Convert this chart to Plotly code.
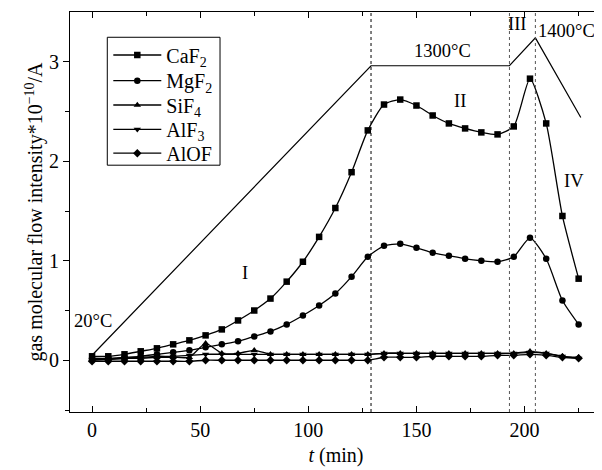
import plotly.graph_objects as go

t = [0, 7.5, 15, 22.5, 30, 37.5, 45, 52.5, 60, 67.5, 75, 82.5, 90, 97.5, 105, 112.5,
     120, 127.5, 135, 142.5, 150, 157.5, 165, 172.5, 180, 187.5, 195, 202.5, 210, 217.5, 225]

caf2 = [0.04, 0.04, 0.06, 0.09, 0.12, 0.16, 0.20, 0.25, 0.31, 0.40, 0.50, 0.62, 0.79, 0.99, 1.24, 1.53,
        1.89, 2.31, 2.57, 2.62, 2.56, 2.46, 2.38, 2.33, 2.29, 2.27, 2.35, 2.83, 2.38, 1.45, 0.82]
mgf2 = [0.02, 0.02, 0.03, 0.04, 0.06, 0.08, 0.10, 0.13, 0.16, 0.19, 0.24, 0.29, 0.36, 0.45, 0.55, 0.67,
        0.84, 1.04, 1.15, 1.17, 1.13, 1.08, 1.05, 1.02, 1.00, 0.99, 1.04, 1.23, 1.02, 0.60, 0.36]
sif4 = [0.01, 0.01, 0.02, 0.02, 0.03, 0.03, 0.03, 0.17, 0.07, 0.07, 0.10, 0.06, 0.06, 0.06, 0.06, 0.06,
        0.06, 0.06, 0.07, 0.07, 0.07, 0.07, 0.07, 0.07, 0.07, 0.07, 0.07, 0.09, 0.07, 0.04, 0.03]
alf3 = [0.00, 0.01, 0.02, 0.03, 0.04, 0.04, 0.05, 0.06, 0.06, 0.06, 0.06, 0.06, 0.06, 0.06, 0.06, 0.06,
        0.06, 0.06, 0.07, 0.07, 0.07, 0.07, 0.07, 0.07, 0.07, 0.07, 0.07, 0.08, 0.07, 0.04, 0.02]
alof = [-0.01, -0.01, -0.01, -0.01, -0.01, -0.01, -0.01, 0.00, 0.00, 0.00, 0.00, 0.00, 0.00, 0.00, 0.00, 0.00,
        0.00, 0.00, 0.03, 0.03, 0.03, 0.04, 0.04, 0.04, 0.04, 0.05, 0.05, 0.06, 0.05, 0.03, 0.02]

temp_t = [0, 129, 193, 205, 226]
temp_y = [0.05, 2.96, 2.96, 3.24, 2.44]

phase_t = [129, 193, 205]

labels = ["20°C", "1300°C", "III", "1400°C", "I", "II", "IV"]
label_x = [0.5, 162, 196.5, 219.5, 70.5, 170, 223]
label_y = [0.39, 3.11, 3.375, 3.31, 0.88, 2.61, 1.80]

series_names = ["CaF<sub>2</sub>", "MgF<sub>2</sub>", "SiF<sub>4</sub>", "AlF<sub>3</sub>", "AlOF"]
series_vals = [caf2, mgf2, sif4, alf3, alof]
series_symbols = ["square", "circle", "triangle-up", "triangle-down", "diamond"]

FONT = "Liberation Serif"
fig = go.Figure()

fig.add_trace(go.Scatter(x=temp_t, y=temp_y, mode="lines", line=dict(color="black", width=1.2),
                         showlegend=False, hoverinfo="skip"))

legend_ids = ["legend", "legend2", "legend3", "legend4", "legend5"]
legend_rows_y = [0.8925, 0.8283, 0.7675, 0.7068, 0.647]

for name, vals, sym, lid in zip(series_names, series_vals, series_symbols, legend_ids):
    fig.add_trace(go.Scatter(
        x=t, y=vals, name=name, mode="lines+markers", legend=lid,
        line=dict(color="black", width=1.3, shape="spline", smoothing=0.6),
        marker=dict(symbol=sym, size=6.5, color="black"),
    ))

for i, pt in enumerate(phase_t):
    fig.add_shape(type="line", x0=pt, x1=pt, y0=0, y1=1, xref="x", yref="paper",
                  line=dict(color="black" if i == 0 else "#555555", width=1, dash="3px,3px"))

# legend frame
fig.add_shape(type="rect", xref="paper", yref="paper", x0=0.0701, x1=0.282, y0=0.617, y1=0.9368,
              line=dict(color="black", width=1), fillcolor="rgba(0,0,0,0)", layer="above")

for txt, lx, ly in zip(labels, label_x, label_y):
    fig.add_annotation(x=lx, y=ly, text=txt, showarrow=False,
                       font=dict(family=FONT, size=18.5, color="black"))

legend_common = dict(xanchor="left", yanchor="middle", borderwidth=0, bgcolor="rgba(0,0,0,0)",
                     font=dict(family=FONT, size=20, color="black"), itemwidth=48,
                     tracegroupgap=0)
layout_legends = {}
for lid, ly in zip(legend_ids, legend_rows_y):
    layout_legends[lid] = dict(x=0.072, y=ly, **legend_common)

fig.update_layout(
    width=594, height=462,
    margin=dict(l=62, r=0, t=4, b=58),
    paper_bgcolor="white", plot_bgcolor="white",
    font=dict(family=FONT, size=20, color="black"),
    **layout_legends,
)

fig.update_xaxes(
    range=[-10.2, 235.8], tickvals=[0, 50, 100, 150, 200],
    ticks="inside", ticklen=6, tickwidth=1, tickcolor="black",
    minor=dict(tickvals=[25, 75, 125, 175, 225], ticks="inside", ticklen=4, tickcolor="black"),
    showline=True, linecolor="black", linewidth=1.2, mirror="ticks",
    showgrid=False, zeroline=False, automargin=False,
    title=dict(text="<i>t</i> (min)", font=dict(size=20), standoff=7),
    tickfont=dict(size=20),
)
fig.update_yaxes(
    range=[-0.52, 3.5], tickvals=[0, 1, 2, 3],
    ticks="outside", ticklen=6, tickwidth=1, tickcolor="black",
    minor=dict(tickvals=[-0.5, 0.5, 1.5, 2.5], ticks="outside", ticklen=4, tickcolor="black"),
    showline=True, linecolor="black", linewidth=1.2, mirror=False,
    showgrid=False, zeroline=False, automargin=False,
    title=dict(text="gas molecular flow intensity*10<sup>−10</sup>/A", font=dict(size=20), standoff=0),
    tickfont=dict(size=20),
)

fig.write_html("out.html")
